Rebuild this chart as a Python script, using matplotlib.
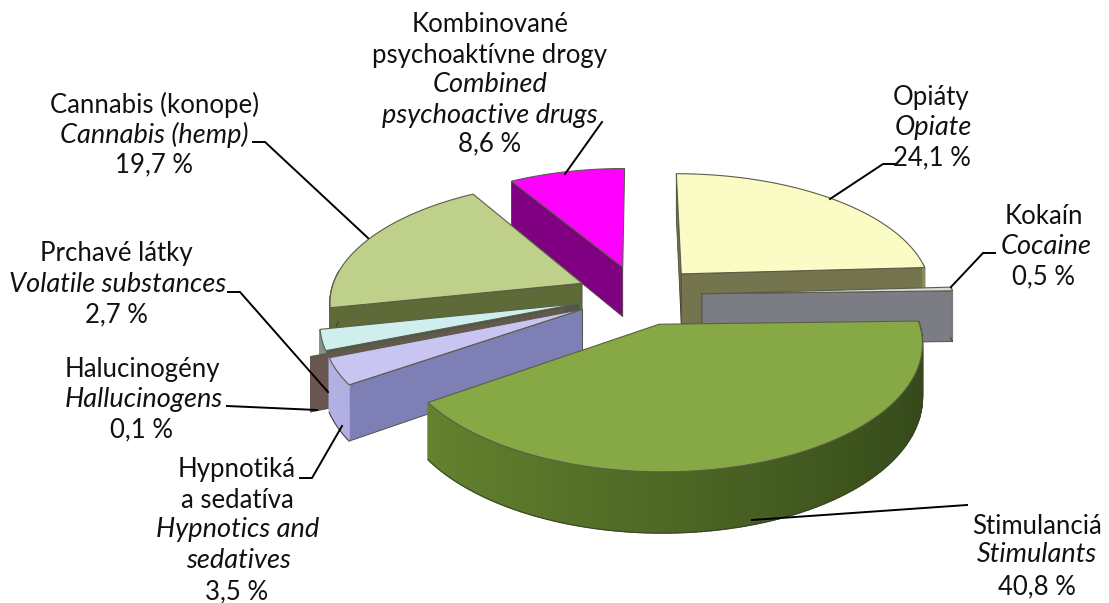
import numpy as np
import matplotlib
matplotlib.use("Agg")
import matplotlib.pyplot as plt
from matplotlib.colors import to_rgb

# shares as printed on the chart, clockwise from 12 o'clock
names = ["Opiate", "Cocaine", "Stimulants", "Hypnotics", "Hallucinogens", "Volatile", "Cannabis", "Combined"]
shares = [24.1, 0.5, 40.8, 3.5, 0.1, 2.7, 19.7, 8.6]
explode = [0.25, 0.25, 0.25, 0.25, 0.31, 0.25, 0.25, 0.25]

# face, cut wall, rim at left, rim at right
face_colors = ["#FBFBC6", "#D9D9D9", "#86A845", "#C9C5F3", "#6E5650", "#CFEFEE", "#BFD08A", "#FF00FF"]
wall_colors = ["#74754F", "#7C7C84", "#5F7F2F", "#7E7FB4", "#6B5550", "#55564A", "#5E6A38", "#7F0080"]
rim_left = ["#8A8A60", "#8A8A8A", "#688830", "#B4B2E4", "#6B5550", "#88908A", "#5E6A38", "#800080"]
rim_right = ["#8A8A60", "#7A7A7A", "#34491A", "#9A98CC", "#6B5550", "#88908A", "#5E6A38", "#800080"]
draw_order = ["Combined", "Opiate", "Cannabis", "Cocaine", "Volatile", "Hallucinogens", "Hypnotics", "Stimulants"]

# projection of the pie plane
cx, cy = 639, 295
rx, ry = 252, 119
persp = 0.135
depth = 51


def project(X, Y, low=False):
    s = 1 / (1 + persp * Y)
    return cx + rx * X * s, cy - ry * Y * s + (depth * s if low else 0)


fig = plt.figure(figsize=(11.09, 6.03), dpi=100)
ax = fig.add_axes([0, 0, 1, 1])
ax.set_xlim(0, 1109)
ax.set_ylim(603, 0)
ax.axis("off")

edges = np.cumsum([0] + shares) / sum(shares) * 2 * np.pi
layer = {n: i for i, n in enumerate(draw_order)}

for i, name in enumerate(names):
    a, b = edges[i], edges[i + 1]
    mid = (a + b) / 2
    ox, oy = explode[i] * np.sin(mid), explode[i] * np.cos(mid)
    t = np.linspace(a, b, max(3, int((b - a) * 60)))
    X = ox + np.sin(t)
    Y = oy + np.cos(t)
    z = 2 + layer[name] * 3

    # cut walls, only the ones turned towards the viewer
    for end, facing in ((0, np.sin(a) <= 1e-9), (-1, -np.sin(b) <= -1e-9)):
        if not facing:
            continue
        px, py = project(np.array([ox, X[end]]), np.array([oy, Y[end]]))
        qx, qy = project(np.array([X[end], ox]), np.array([Y[end], oy]), True)
        ax.fill(np.r_[px, qx], np.r_[py, qy], fc=wall_colors[i], ec="#45463A", lw=0.6, zorder=z)

    # outer rim, shaded along the arc, front part only
    c0, c1 = np.array(to_rgb(rim_left[i])), np.array(to_rgb(rim_right[i]))
    tx, ty = project(X, Y)
    lx, ly = project(X, Y, True)
    front = np.cos(t) < 0.1
    for k in range(len(t) - 1):
        if not front[k]:
            continue
        f = (np.sin(t[k]) + 1) / 2
        col = c0 + (c1 - c0) * f
        ax.fill([tx[k], tx[k + 1], lx[k + 1], lx[k]], [ty[k], ty[k + 1], ly[k + 1], ly[k]],
                fc=col, ec=col, lw=1.0, zorder=z + 1)
    if front.sum() > 1:
        ax.plot(lx[front], ly[front], color="#3A4228", lw=0.7, zorder=z + 1)

    # top face
    fx, fy = project(np.r_[ox, X], np.r_[oy, Y])
    ax.fill(fx, fy, fc=face_colors[i], ec="#5A5E48", lw=0.8, zorder=z + 2)

# label lines: text, centre x, centre y, italic
labels = [
    ("Kombinované", 490, 24, 0), ("psychoaktívne drogy", 490, 55, 0), ("Combined", 490, 84, 1),
    ("psychoactive drugs", 490, 115, 1), ("8,6 %", 490, 144, 0),
    ("Cannabis (konope)", 154, 105, 0), ("Cannabis (hemp)", 154, 135, 1), ("19,7 %", 154, 165, 0),
    ("Prchavé látky", 116, 253, 0), ("Volatile substances", 118, 284, 1), ("2,7 %", 116, 315, 0),
    ("Halucinogény", 142, 370, 0), ("Hallucinogens", 144, 400, 1), ("0,1 %", 142, 430, 0),
    ("Hypnotiká", 237, 470, 0), ("a sedatíva", 237, 500, 0), ("Hypnotics and", 238, 530, 1),
    ("sedatives", 238, 560, 1), ("3,5 %", 237, 592, 0),
    ("Opiáty", 931, 97, 0), ("Opiate", 933, 127, 1), ("24,1 %", 932, 158, 0),
    ("Kokaín", 1044, 217, 0), ("Cocaine", 1046, 247, 1), ("0,5 %", 1044, 277, 0),
    ("Stimulanciá", 1037, 526, 0), ("Stimulants", 1037, 555, 1), ("40,8 %", 1037, 587, 0),
]
for txt, x, y, it in labels:
    ax.text(x, y, txt, ha="center", va="center", fontsize=19.5 if it else 18.5, family="Lato",
            style="italic" if it else "normal", color="#111111", zorder=40)

# leader lines
leaders = [
    [(602, 122), (565, 174)],
    [(253, 142), (265, 142), (368, 238)],
    [(228, 292), (240, 292), (328, 392)],
    [(227, 406), (317, 410)],
    [(300, 478), (312, 478), (342, 426)],
    [(830, 199), (883, 164), (895, 164)],
    [(951, 287), (983, 253), (995, 253)],
    [(752, 520), (967, 505)],
]
for pts in leaders:
    ax.plot([p[0] for p in pts], [p[1] for p in pts], color="black", lw=1.4, zorder=30,
            solid_joinstyle="miter")

plt.savefig("out.png", dpi=100)
